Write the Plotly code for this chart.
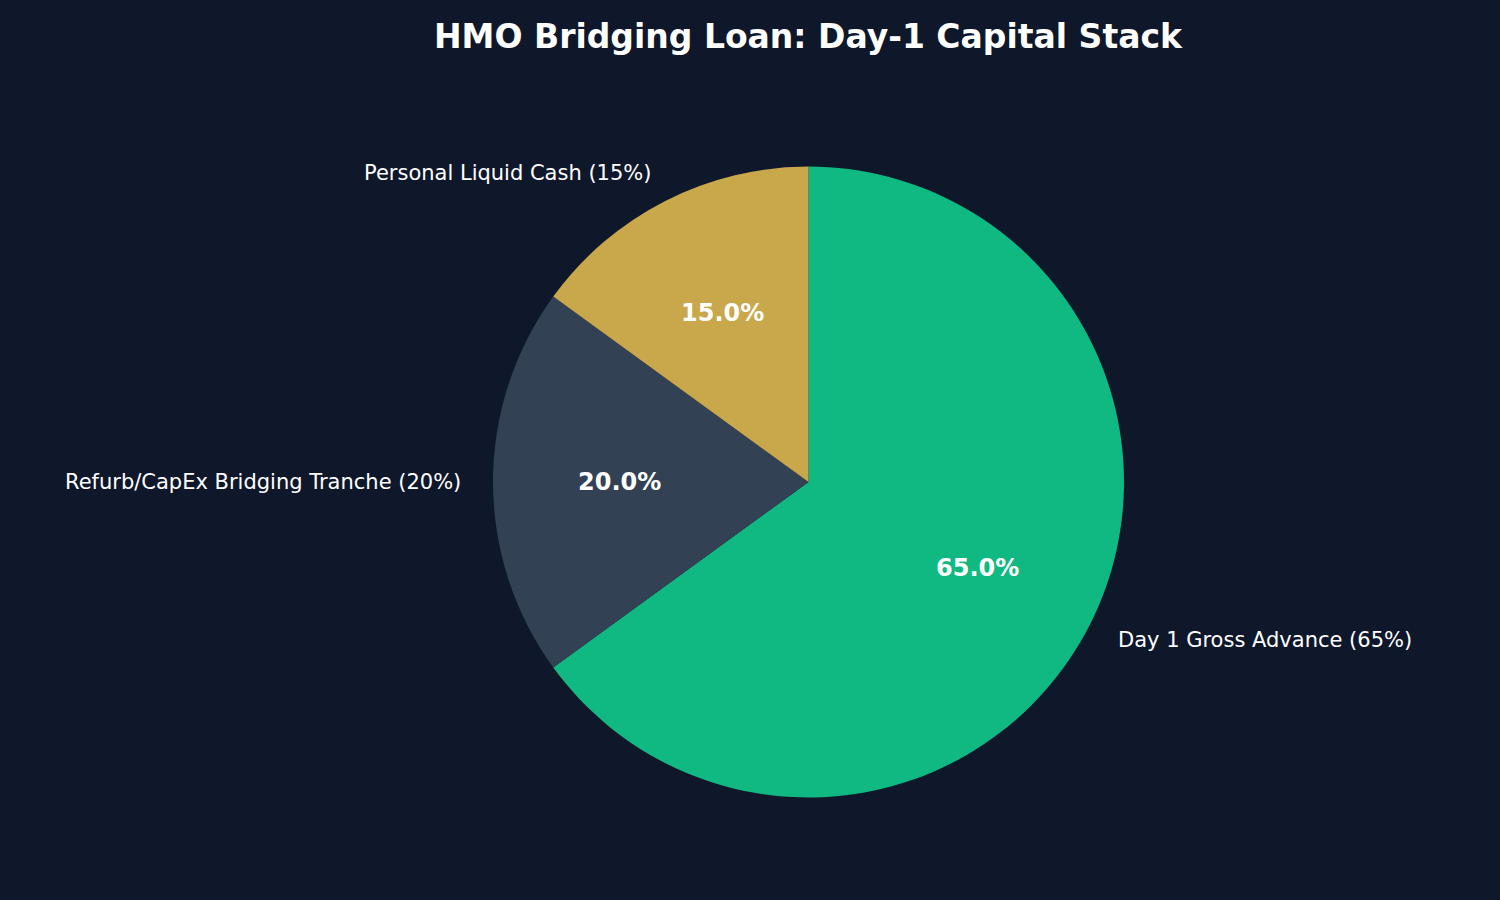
import math
import plotly.graph_objects as go

labels = ["Day 1 Gross Advance", "Refurb/CapEx Bridging Tranche", "Personal Liquid Cash"]
values = [65, 20, 15]
colors = ["#10b981", "#334155", "#c9a74b"]
title = "HMO Bridging Loan: Day-1 Capital Stack"

W, H = 1500, 900
CX, CY, R = 808.5, 482.0, 315.5
BG = "#0f172a"

fig = go.Figure(go.Pie(
    labels=labels, values=values, sort=False, direction="clockwise", rotation=0,
    marker=dict(colors=colors, line=dict(width=0)),
    textinfo="none", hoverinfo="none", showlegend=False,
    domain=dict(x=[(CX - R) / W, (CX + R) / W], y=[1 - (CY + R) / H, 1 - (CY - R) / H]),
))

total = sum(values)
annotations = []
cum = 0.0
for lab, v in zip(labels, values):
    mid = 90 - 360 * (cum + v / 2) / total
    cum += v
    c, s = math.cos(math.radians(mid)), math.sin(math.radians(mid))
    # percentage inside
    annotations.append(dict(
        x=(CX + 0.6 * R * c) / W, y=1 - (CY - 0.6 * R * s) / H, xref="paper", yref="paper",
        text=f"<b>{100 * v / total:.1f}%</b>", showarrow=False,
        font=dict(family="DejaVu Sans", size=24, color="white"),
        xanchor="center", yanchor="middle"))
    # outer label
    annotations.append(dict(
        x=(CX + 1.1 * R * c) / W, y=1 - (CY - 1.1 * R * s) / H, xref="paper", yref="paper",
        text=f"{lab} ({v / total * 100:.0f}%)", showarrow=False,
        font=dict(family="DejaVu Sans", size=21, color="white"),
        xanchor="right" if c < 0 else "left", xshift=2 if c < 0 else -2,
        yanchor="middle"))

annotations.append(dict(
    x=CX / W, y=1 - 37 / H, xref="paper", yref="paper", text=f"<b>{title}</b>",
    showarrow=False, font=dict(family="DejaVu Sans", size=33, color="white"),
    xanchor="center", yanchor="middle"))

fig.update_layout(
    width=W, height=H, paper_bgcolor=BG, plot_bgcolor=BG,
    margin=dict(l=0, r=0, t=0, b=0), annotations=annotations,
)
fig.write_html("out.html")
